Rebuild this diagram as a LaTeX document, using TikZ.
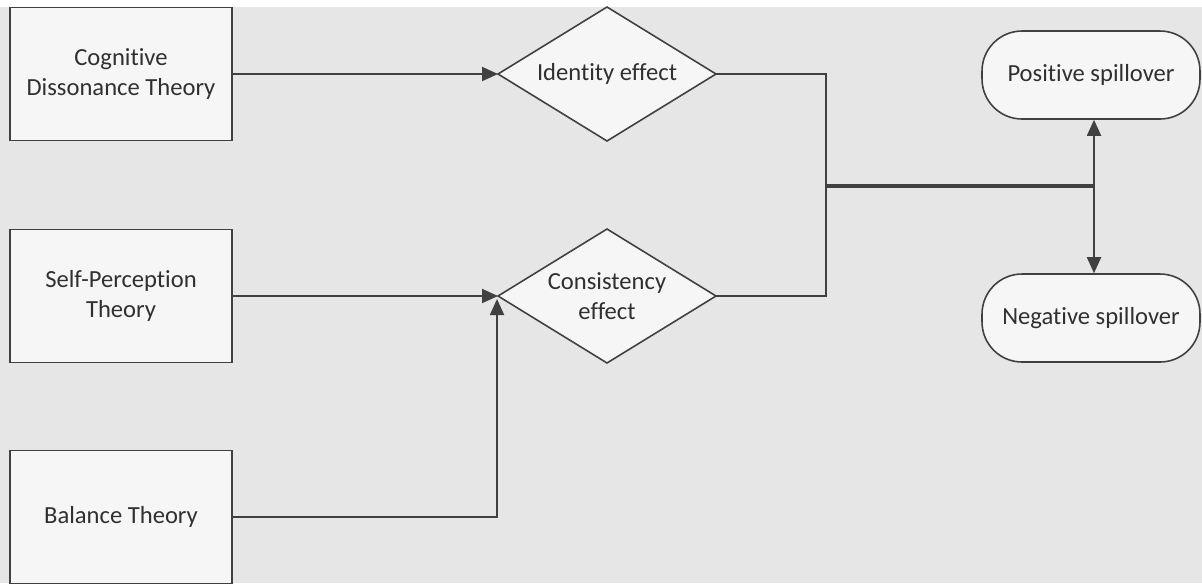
\documentclass[tikz,border=0pt]{standalone}
\usepackage{fontspec}
\setmainfont{Carlito}[Ligatures=NoCommon]
\usetikzlibrary{arrows.meta,shapes.geometric}
\definecolor{linegray}{HTML}{404040}
\definecolor{textgray}{HTML}{303030}
\definecolor{backgray}{HTML}{E6E6E6}
\definecolor{boxgray}{HTML}{F6F6F6}

\begin{document}
\begin{tikzpicture}[x=0.02cm, y=-0.02cm,
		theory/.style={draw=linegray, line width=1.1pt, fill=boxgray, text=textgray,
			minimum width=4.44cm, minimum height=2.66cm, align=center,
			font=\fontsize{14}{17}\selectfont},
		effect/.style={diamond, aspect=1.63, draw=linegray, line width=0.9pt, fill=boxgray, text=textgray,
			minimum width=4.36cm, minimum height=2.68cm, inner sep=0pt, outer sep=0pt, align=center,
			font=\fontsize{14}{17}\selectfont},
		outcome/.style={draw=linegray, line width=0.9pt, fill=boxgray, text=textgray,
			rounded corners=0.8cm, minimum width=4.36cm, minimum height=1.76cm,
			font=\fontsize{14}{17}\selectfont},
		link/.style={draw=linegray, line width=1.1pt},
		arr/.style={link, -{Triangle[length=0.32cm,width=0.28cm]}}]
			%%%%% START %%%%%
			
			\useasboundingbox (0, 0) rectangle (1202, 583);
			\fill[backgray] (0, 7) rectangle (1202, 583);
			
			\node[theory] (cdt) at (121, 74) {Cognitive\\Dissonance Theory};
			\node[theory] (spt) at (121, 296) {Self-Perception\\Theory};
			\node[theory] (bt) at (121, 517) {Balance Theory};
			
			\node[effect] (ide) at (607, 74) {Identity effect};
			\node[effect] (con) at (607, 296) {Consistency\\effect};
			
			\node[outcome] (pos) at (1091, 75) {Positive spillover};
			\node[outcome] (neg) at (1091, 318) {Negative spillover};
			
			\coordinate (j) at (826, 186);
			\coordinate (k) at (1094, 186);
			
			\draw[arr] (cdt.east) -- (ide.west);
			\draw[arr] (spt.east) -- (con.west);
			\draw[arr] (bt.east) -| ([xshift=-0.02cm, yshift=-0.06cm]con.west);
			
			\draw[link] (ide.east) -| (j) |- (con.east);
			\draw[link, line width=1.8pt] (j) -- (k);
			\draw[arr] (k) -- (k |- pos.south);
			\draw[arr] (k) -- (k |- neg.north);
			
			%%%%% END %%%%%
		\end{tikzpicture}
\end{document}
